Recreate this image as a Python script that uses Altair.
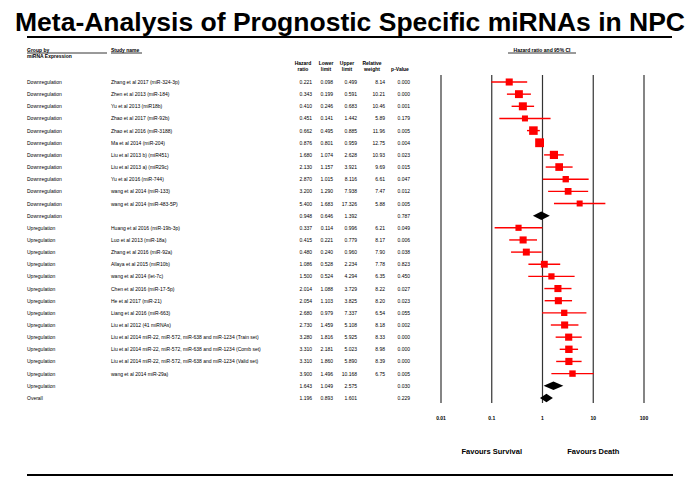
import altair as alt
import pandas as pd

title_text = "Meta-Analysis of Prognostic Specific miRNAs in NPC"

studies_down = [
    "Zhang et al 2017 (miR-324-3p)", "Zhen et al 2013 (miR-184)", "Yu et al 2013 (miR18b)",
    "Zhao et al 2017 (miR-92b)", "Zhao et al 2016 (miR-3188)", "Ma et al 2014 (miR-204)",
    "Liu et al 2013 b) (miR451)", "Liu et al 2013 a) (miR29c)", "Yu et al 2016  (miR-744)",
    "wang et al 2014 (miR-133)", "wang et al 2014 (miR-483-5P)",
]
hr_down = [0.221, 0.343, 0.410, 0.451, 0.662, 0.876, 1.680, 2.130, 2.870, 3.200, 5.400]
lo_down = [0.098, 0.199, 0.246, 0.141, 0.495, 0.801, 1.074, 1.157, 1.015, 1.290, 1.683]
hi_down = [0.499, 0.591, 0.683, 1.442, 0.885, 0.959, 2.628, 3.921, 8.116, 7.938, 17.326]
w_down = [8.14, 10.21, 10.46, 5.89, 11.96, 12.75, 10.93, 9.69, 6.61, 7.47, 5.88]
p_down = [0.000, 0.000, 0.001, 0.179, 0.005, 0.004, 0.023, 0.015, 0.047, 0.012, 0.005]

studies_up = [
    "Huang et al 2016 (miR-19b-3p)", "Luo et al 2013 (miR-18a)", "Zhang et al 2016 (miR-92a)",
    "Allaya et al  2015 (miR10b)", "wang et al 2014 (let-7c)", "Chen et al 2016 (miR-17-5p)",
    "He et al 2017 (miR-21)", "Liang et al 2016 (miR-663)", "Liu et al 2012 (41 miRNAs)",
    "Liu et al 2014 miR-22, miR-572, miR-638 and miR-1234 (Train set)",
    "Liu et al 2014 miR-22, miR-572, miR-638 and miR-1234 (Comb set)",
    "Liu et al 2014 miR-22, miR-572, miR-638 and miR-1234 (Valid set)",
    "wang et al 2014 miR-29a)",
]
hr_up = [0.337, 0.415, 0.480, 1.086, 1.500, 2.014, 2.054, 2.680, 2.730, 3.280, 3.310, 3.310, 3.900]
lo_up = [0.114, 0.221, 0.240, 0.528, 0.524, 1.088, 1.103, 0.979, 1.459, 1.816, 2.181, 1.860, 1.496]
hi_up = [0.996, 0.779, 0.960, 2.234, 4.294, 3.729, 3.825, 7.337, 5.108, 5.925, 5.023, 5.890, 10.168]
w_up = [6.21, 8.17, 7.90, 7.78, 6.35, 8.22, 8.20, 6.54, 8.18, 8.33, 8.98, 8.39, 6.75]
p_up = [0.049, 0.006, 0.038, 0.823, 0.450, 0.027, 0.023, 0.055, 0.002, 0.000, 0.000, 0.000, 0.005]

summary_labels = ["Downregulation", "Upregulation", "Overall"]
summary_hr = [0.948, 1.643, 1.196]
summary_lo = [0.646, 1.049, 0.893]
summary_hi = [1.392, 2.575, 1.601]
summary_p = [0.787, 0.030, 0.229]

tick_values = [0.01, 0.1, 1, 10, 100]
tick_labels = ["0.01", "0.1", "1", "10", "100"]
favour_labels = ["Favours Survival", "Favours Death"]
favour_pos = [0.1, 10]

# ---- build tables ----
rows = []
for i in range(len(studies_down)):
    rows.append(dict(group="Downregulation", study=studies_down[i], hr=hr_down[i], lo=lo_down[i],
                     hi=hi_down[i], w=w_down[i], p=p_down[i], kind="study"))
rows.append(dict(group=summary_labels[0], study="", hr=summary_hr[0], lo=summary_lo[0],
                 hi=summary_hi[0], w=None, p=summary_p[0], kind="summary"))
for i in range(len(studies_up)):
    rows.append(dict(group="Upregulation", study=studies_up[i], hr=hr_up[i], lo=lo_up[i],
                     hi=hi_up[i], w=w_up[i], p=p_up[i], kind="study"))
for j in (1, 2):
    rows.append(dict(group=summary_labels[j], study="", hr=summary_hr[j], lo=summary_lo[j],
                     hi=summary_hi[j], w=None, p=summary_p[j], kind="summary"))
df = pd.DataFrame(rows)
df["row"] = range(len(df))
df["hr_s"] = df["hr"].map(lambda v: f"{v:.3f}")
df["lo_s"] = df["lo"].map(lambda v: f"{v:.3f}")
df["hi_s"] = df["hi"].map(lambda v: f"{v:.3f}")
df["w_s"] = df["w"].map(lambda v: "" if pd.isna(v) else f"{v:.2f}")
df["p_s"] = df["p"].map(lambda v: f"{v:.3f}")

studies = df[df.kind == "study"]
summ = df[df.kind == "summary"]

half = 0.35
dia = []
for _, r in summ.iterrows():
    dia.append(dict(row=r["row"], x=r["lo"], y1=r["row"], y2=r["row"]))
    dia.append(dict(row=r["row"], x=r["hr"], y1=r["row"] - half, y2=r["row"] + half))
    dia.append(dict(row=r["row"], x=r["hi"], y1=r["row"], y2=r["row"]))
dia = pd.DataFrame(dia)

ticks = pd.DataFrame({"v": tick_values, "lab": tick_labels})
favours = pd.DataFrame({"v": favour_pos, "lab": favour_labels})
one = pd.DataFrame({"k": [0]})

ROW0, ROWH = 74, 12.15
yscale = alt.Scale(domain=[0, 26], range=[ROW0, ROW0 + 26 * ROWH], nice=False, zero=False)
xscale = alt.Scale(type="log", domain=[0.01, 100], range=[433, 636], nice=False)
X = lambda f: alt.X(f, type="quantitative", scale=xscale, axis=None)
Y = lambda f: alt.Y(f, type="quantitative", scale=yscale, axis=None)

layers = []

# title and rules
layers.append(alt.Chart(one).mark_text(fontSize=26.5, fontWeight="bold", align="center",
                                       baseline="alphabetic", color="black").encode(
    x=alt.value(342), y=alt.value(23), text=alt.value(title_text)))
layers.append(alt.Chart(one).mark_rule(color="black", strokeWidth=2).encode(
    x=alt.value(19), x2=alt.value(664), y=alt.value(29)))
layers.append(alt.Chart(one).mark_rule(color="black", strokeWidth=2).encode(
    x=alt.value(19), x2=alt.value(665), y=alt.value(467)))

# headers
def txt(s, x, y, align="left", size=5, weight="bold"):
    return alt.Chart(one).mark_text(fontSize=size, fontWeight=weight, align=align,
                                    baseline="middle", color="black").encode(
        x=alt.value(x), y=alt.value(y), text=alt.value(s))

def uline(x1, x2, y):
    return alt.Chart(one).mark_rule(color="black", strokeWidth=0.8).encode(
        x=alt.value(x1), x2=alt.value(x2), y=alt.value(y))

layers += [
    txt("Group by", 19, 42), txt("miRNA Expression", 19, 48), uline(19, 99, 45),
    txt("Study name", 103, 42), uline(103, 134, 45),
    txt("Hazard ratio and 95% CI", 534, 42, align="center"), uline(500, 568, 45),
    txt("Hazard", 295, 55, "center"), txt("ratio", 295, 61, "center"),
    txt("Lower", 318, 55, "center"), txt("limit", 318, 61, "center"),
    txt("Upper", 339, 55, "center"), txt("limit", 339, 61, "center"),
    txt("Relative", 364, 55, "center"), txt("weight", 364, 61, "center"),
    txt("p-Value", 392, 61, "center"),
]

# vertical reference lines
layers.append(alt.Chart(ticks).mark_rule(color="#333333", strokeWidth=1.2).encode(
    x=X("v"), y=alt.value(67), y2=alt.value(395)))
layers.append(alt.Chart(ticks).mark_text(fontSize=5, fontWeight="bold", baseline="middle",
                                         color="black").encode(
    x=X("v"), y=alt.value(410), text="lab:N"))
layers.append(alt.Chart(favours).mark_text(fontSize=7.5, fontWeight="bold", baseline="middle",
                                           color="black").encode(
    x=X("v"), y=alt.value(444), text="lab:N"))

# table text
base = alt.Chart(df)
layers.append(base.mark_text(fontSize=5, align="left", baseline="middle", color="black").encode(
    x=alt.value(19), y=Y("row"), text="group:N"))
layers.append(base.mark_text(fontSize=5, align="left", baseline="middle", color="black").encode(
    x=alt.value(103), y=Y("row"), text="study:N"))
for col, xp in (("hr_s", 304), ("lo_s", 325), ("hi_s", 349), ("w_s", 377), ("p_s", 402)):
    layers.append(base.mark_text(fontSize=5, align="right", baseline="middle", color="black").encode(
        x=alt.value(xp), y=Y("row"), text=f"{col}:N"))

# forest marks
layers.append(alt.Chart(studies).mark_rule(color="#ff0000", strokeWidth=1.4).encode(
    x=X("lo"), x2="hi", y=Y("row")))
layers.append(alt.Chart(studies).mark_square(color="#ff0000", opacity=1, filled=True).encode(
    x=X("hr"), y=Y("row"),
    size=alt.Size("w:Q", scale=alt.Scale(domain=[0, 12.75], range=[0, 78]), legend=None)))
layers.append(alt.Chart(dia).mark_area(color="black", orient="vertical", opacity=1).encode(
    x=X("x"), y=Y("y1"), y2="y2", detail="row:N"))

chart = alt.layer(*layers).properties(
    width=684, height=469, padding=0, autosize=alt.AutoSizeParams(type="none")
).configure(font="Liberation Sans").configure_view(strokeWidth=0)

chart.save("out.html", embed_options={"renderer": "svg", "actions": False})
